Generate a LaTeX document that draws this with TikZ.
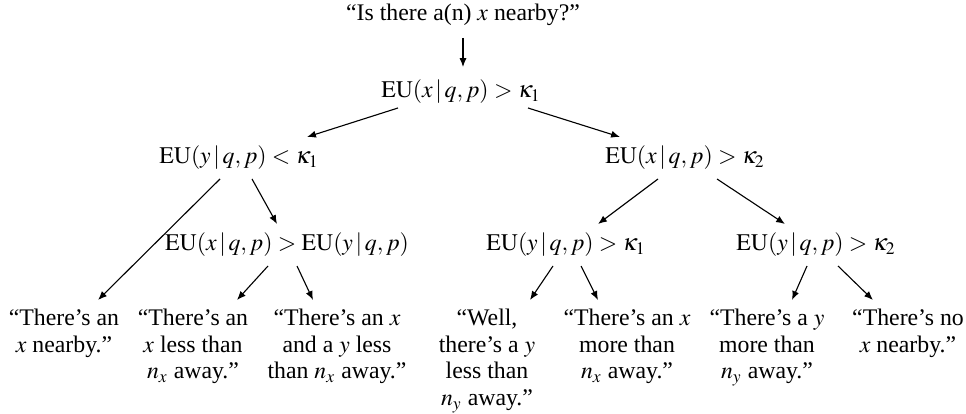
\documentclass[tikz,border=0pt]{standalone}
\usepackage{mathptmx}
\usepackage{fontspec}
\setmainfont{Liberation Serif}
\usepackage{tikz}
\usetikzlibrary{arrows.meta, positioning}
\newcommand{\given}{\,|\,}
\tikzset{
	cond/.style ={inner sep=0pt, outer sep=0pt, align=center},
	leaf/.style ={inner sep=0pt, outer sep=0pt, align=center, anchor=north},
	branch/.style={-{Latex[length=4pt, width=3.2pt]}, line width=0.5pt},
}

\begin{document}
\begin{tikzpicture}[x=0.45pt, y=-0.45pt, font=\fontsize{10.7}{12}\selectfont]
	\useasboundingbox (0,0) rectangle (966,414);
	% question and decision nodes
	\node[cond] (q)    at (463,15)  {``Is there a(n) $x$ nearby?''};
	\node[cond] (root) at (461,92)  {$\mathrm{EU}(x\given q,p) > \kappa_1$};
	\node[cond] (lft)  at (239,158) {$\mathrm{EU}(y\given q,p) < \kappa_1$};
	\node[cond] (rgt)  at (685,158) {$\mathrm{EU}(x\given q,p) > \kappa_2$};
	\node[cond] (cmp)  at (287,245) {$\mathrm{EU}(x\given q,p) > \mathrm{EU}(y\given q,p)$};
	\node[cond] (yk1)  at (566,245) {$\mathrm{EU}(y\given q,p) > \kappa_1$};
	\node[cond] (yk2)  at (816,245) {$\mathrm{EU}(y\given q,p) > \kappa_2$};
	% answers
	\node[leaf] (lA) at (64,309)  {``There's an\\ $x$ nearby.''};
	\node[leaf] (lB) at (193,309) {``There's an\\ $x$ less than\\ $n_x$ away.''};
	\node[leaf] (lC) at (337,309) {``There's an $x$\\ and a $y$ less\\ than $n_x$ away.''};
	\node[leaf] (lD) at (487,309) {``Well,\\ there's a $y$\\ less than\\ $n_y$ away.''};
	\node[leaf] (lE) at (627,309) {``There's an $x$\\ more than\\ $n_x$ away.''};
	\node[leaf] (lF) at (767,309) {``There's a $y$\\ more than\\ $n_y$ away.''};
	\node[leaf] (lG) at (908,309) {``There's no\\ $x$ nearby.''};
	% branches
	\draw[branch] ([shift={(0,23)}]q.center) -- ([shift={(2,-25)}]root.center);
	\draw[branch] ([shift={(-63,16)}]root.center) -- ([shift={(68,-21)}]lft.center);
	\draw[branch] ([shift={(67,16)}]root.center) -- ([shift={(-65,-21)}]rgt.center);
	\draw[branch] ([shift={(-19,21)}]lft.center) -- ([shift={(34,-9)}]lA.north);
	\draw[branch] ([shift={(13,21)}]lft.center) -- ([shift={(-10,-21)}]cmp.center);
	\draw[branch] ([shift={(-19,21)}]cmp.center) -- ([shift={(44,-9)}]lB.north);
	\draw[branch] ([shift={(10,21)}]cmp.center) -- ([shift={(-24,-9)}]lC.north);
	\draw[branch] ([shift={(-27,21)}]rgt.center) -- ([shift={(32,-21)}]yk1.center);
	\draw[branch] ([shift={(32,21)}]rgt.center) -- ([shift={(-31,-21)}]yk2.center);
	\draw[branch] ([shift={(-13,21)}]yk1.center) -- ([shift={(43,-9)}]lD.north);
	\draw[branch] ([shift={(15,21)}]yk1.center) -- ([shift={(-29,-9)}]lE.north);
	\draw[branch] ([shift={(-9,21)}]yk2.center) -- ([shift={(25,-9)}]lF.north);
	\draw[branch] ([shift={(22,21)}]yk2.center) -- ([shift={(-35,-9)}]lG.north);
\end{tikzpicture}
\end{document}
